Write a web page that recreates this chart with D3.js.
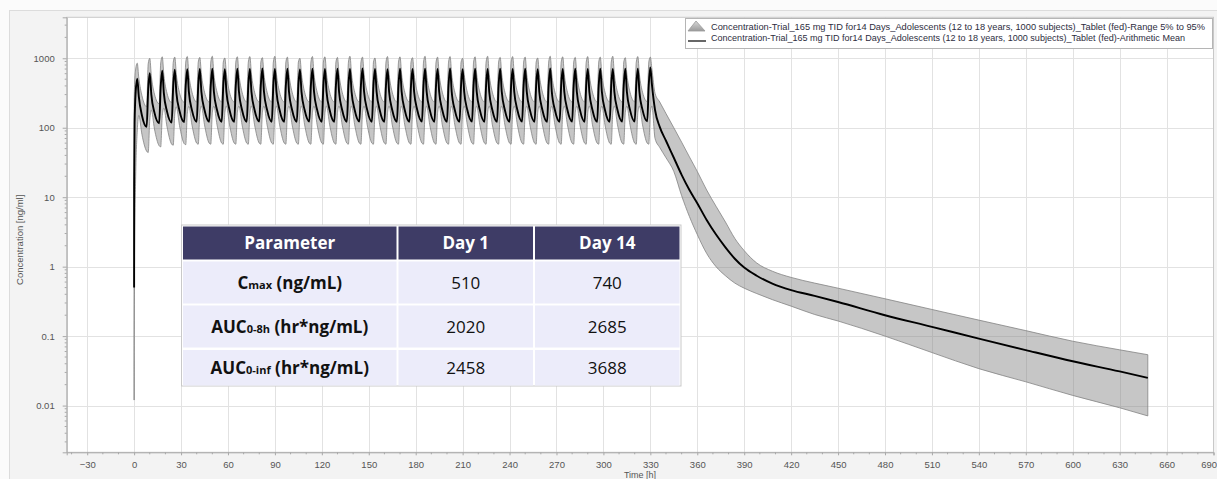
<!DOCTYPE html>
<html><head><meta charset="utf-8">
<script src="https://cdn.jsdelivr.net/npm/d3@7"></script>
<style>
html,body{margin:0;padding:0;background:#fff;}
svg{display:block;}
</style></head>
<body>
<svg id="chart" width="1217" height="479"></svg>
<script>
// ---------------- DATA ----------------
const xTickValues = [-30,0,30,60,90,120,150,180,210,240,270,300,330,360,390,420,450,480,510,540,570,600,630,660,690];
const yTickValues = [0.01,0.1,1,10,100,1000];
const yTickLabels = ["0.01","0.1","1","10","100","1000"];

const legendLabels = [
  "Concentration-Trial_165 mg TID for14 Days_Adolescents (12 to 18 years, 1000 subjects)_Tablet (fed)-Range 5% to 95%",
  "Concentration-Trial_165 mg TID for14 Days_Adolescents (12 to 18 years, 1000 subjects)_Tablet (fed)-Arithmetic Mean"
];

// first instants after the first dose
const startHours = [0, 0.02, 0.3];
const startMean  = [0.5, 15, 117];
const startP5    = [0.012, 0.06, 1.5];
const startP95   = [4, 200, 420];

// TID dosing, values read at these hours after each dose
const doseHours = [0,8,16,24,32,40,48,56,64,72,80,88,96,104,112,120,128,136,144,152,160,168,176,184,192,200,208,216,224,232,240,248,256,264,272,280,288,296,304,312,320];
const hoursAfterDose = [0, 1, 2, 3, 5];

const meanByDose = [
  [null,330,510,280,150],[103,360,610,300,165],[116,390,660,315,172],[119,400,685,322,176],
  [121,405,695,328,178],[122,405,700,330,180],[122,405,705,330,180],[122,405,695,330,180],
  [122,408,710,332,180],[122,405,700,330,180],[123,410,715,332,181],[122,405,700,330,180],
  [122,405,705,330,180],[122,405,690,328,180],[123,408,710,332,181],[122,405,700,330,180],
  [122,405,705,330,180],[122,405,700,330,180],[123,410,715,332,181],[122,405,700,330,180],
  [122,405,695,330,180],[122,408,710,332,180],[122,405,700,330,180],[123,405,705,330,181],
  [122,405,700,330,180],[122,410,715,332,180],[122,405,695,330,180],[123,405,705,330,181],
  [122,405,700,330,180],[122,408,710,332,180],[122,405,700,330,180],[123,405,705,330,181],
  [122,405,695,330,180],[122,410,715,332,180],[122,405,700,330,180],[123,405,705,330,181],
  [122,405,700,330,180],[122,408,710,332,180],[122,405,700,330,180],[123,405,705,330,181],
  [123,408,710,332,181]
];
const p95ByDose = [
  [null,700,850,520,290],[200,830,1000,560,305],[222,860,1050,575,315],[230,870,1040,585,320],
  [233,880,1060,590,324],[235,880,1030,590,325],[235,880,1070,590,325],[235,880,1010,590,325],
  [235,880,1050,590,325],[235,880,1060,590,325],[235,880,1020,590,325],[235,880,1070,590,325],
  [235,880,1040,590,325],[235,880,1000,590,325],[235,880,1060,590,325],[235,880,1050,590,325],
  [235,880,1030,590,325],[235,880,1070,590,325],[235,880,1040,590,325],[235,880,1010,590,325],
  [235,880,1060,590,325],[235,880,1050,590,325],[235,880,1020,590,325],[235,880,1070,590,325],
  [235,880,1040,590,325],[235,880,1060,590,325],[235,880,1000,590,325],[235,880,1050,590,325],
  [235,880,1070,590,325],[235,880,1030,590,325],[235,880,1060,590,325],[235,880,1040,590,325],
  [235,880,1010,590,325],[235,880,1070,590,325],[235,880,1050,590,325],[235,880,1030,590,325],
  [235,880,1060,590,325],[235,880,1040,590,325],[235,880,1070,590,325],[235,880,1020,590,325],
  [236,880,1060,590,325]
];
const p5ByDose = [
  [null,20,90,150,80],[46,44,130,180,96],[55,53,150,192,104],[58,56,158,200,108],
  [59,57,162,203,109],[60,58,165,205,110],[60,58,165,205,110],[60,58,165,205,110],
  [60,58,165,205,110],[60,58,165,205,110],[60,58,165,205,110],[60,58,165,205,110],
  [60,58,165,205,110],[60,58,165,205,110],[60,58,165,205,110],[60,58,165,205,110],
  [60,58,165,205,110],[60,58,165,205,110],[60,58,165,205,110],[60,58,165,205,110],
  [60,58,165,205,110],[60,58,165,205,110],[60,58,165,205,110],[60,58,165,205,110],
  [60,58,165,205,110],[60,58,165,205,110],[60,58,165,205,110],[60,58,165,205,110],
  [60,58,165,205,110],[60,58,165,205,110],[60,58,165,205,110],[60,58,165,205,110],
  [60,58,165,205,110],[60,58,165,205,110],[60,58,165,205,110],[60,58,165,205,110],
  [60,58,165,205,110],[60,58,165,205,110],[60,58,165,205,110],[60,58,165,205,110],
  [60,58,165,205,110]
];

// last dose (328 h) and elimination phase
const tailHours = [328,329,330,331,333,336,340,345,350,355,360,366,372,378,384,390,398,408,420,435,450,480,510,540,570,600,630,648];
const tailMean  = [124,420,740,420,180,103,65,37,21,12.7,8.2,4.7,2.9,1.9,1.3,0.97,0.74,0.57,0.46,0.38,0.31,0.2,0.136,0.092,0.063,0.0435,0.031,0.025];
const tailP95   = [238,880,1040,700,313,235,160,100,62,38,23.5,12.7,7.4,4.4,2.55,1.7,1.13,0.86,0.7,0.58,0.49,0.345,0.242,0.17,0.12,0.0845,0.0635,0.054];
const tailP5    = [60,58,165,205,70,52,37,23.5,10.5,5.25,2.9,1.55,1.0,0.74,0.58,0.49,0.41,0.335,0.27,0.205,0.165,0.1,0.058,0.034,0.022,0.014,0.0093,0.0071];

// summary table
const tableHeader = ["Parameter","Day 1","Day 14"];
const paramMain = ["C","AUC","AUC"];
const paramSub  = ["max","0-8h","0-inf"];
const paramUnit = ["(ng/mL)","(hr*ng/mL)","(hr*ng/mL)"];
const day1Values  = [510, 2020, 2458];
const day14Values = [740, 2685, 3688];

// ---------------- BUILD SERIES ----------------
function buildSeries(start, rows, tail){
  const pts = startHours.map((t,i)=>[t,start[i]]);
  doseHours.forEach((d,i)=>hoursAfterDose.forEach((h,j)=>{ if(rows[i][j]!=null) pts.push([d+h, rows[i][j]]); }));
  tailHours.forEach((t,i)=>pts.push([t, tail[i]]));
  return pts;
}
const meanPts = buildSeries(startMean, meanByDose, tailMean);
const p5Pts   = buildSeries(startP5, p5ByDose, tailP5);
const p95Pts  = buildSeries(startP95, p95ByDose, tailP95);
const band = p5Pts.map((p,i)=>({t:p[0], lo:p[1], hi:p95Pts[i][1]}));

// ---------------- LAYOUT ----------------
const svg = d3.select("#chart");
const FONT = "'Liberation Sans', Arial, sans-serif";
const X0 = 66.7, X1 = 1213.5, Y0 = 17.3, Y1 = 452.3;

const x = d3.scaleLinear().domain([-43.1, 690]).range([X0, X1]);
const y = d3.scaleLog().domain([0.002125, 3890]).range([Y1, Y0]);

// panel background
svg.append("rect").attr("x",0).attr("y",0).attr("width",1217).attr("height",479).attr("fill","#fbfbfb");
svg.append("rect").attr("x",9.5).attr("y",10.5).attr("width",1220).attr("height",480)
   .attr("fill","#f3f3f3").attr("stroke","#dcdcdc");
// plot area
svg.append("rect").attr("x",X0).attr("y",Y0).attr("width",X1-X0).attr("height",Y1-Y0).attr("fill","#fff");

const defs = svg.append("defs");
defs.append("clipPath").attr("id","plotclip")
  .append("rect").attr("x",X0).attr("y",Y0).attr("width",X1-X0).attr("height",Y1-Y0);

// grid
const grid = svg.append("g").attr("clip-path","url(#plotclip)");
grid.selectAll("line.vx").data(xTickValues).join("line")
  .attr("x1",d=>Math.round(x(d))+0.5).attr("x2",d=>Math.round(x(d))+0.5)
  .attr("y1",Y0).attr("y2",Y1).attr("stroke","#e2e2e2").attr("stroke-width",1);
grid.selectAll("line.hy").data(yTickValues).join("line")
  .attr("y1",d=>Math.round(y(d))+0.5).attr("y2",d=>Math.round(y(d))+0.5)
  .attr("x1",X0).attr("x2",X1).attr("stroke","#e2e2e2").attr("stroke-width",1);

// band
const plot = svg.append("g").attr("clip-path","url(#plotclip)");
plot.append("path").datum(band)
  .attr("d", d3.area().curve(d3.curveMonotoneX).x(d=>x(d.t)).y0(d=>y(d.lo)).y1(d=>y(d.hi)))
  .attr("fill","rgb(125,125,125)").attr("fill-opacity",0.44)
  .attr("stroke","#838383").attr("stroke-width",0.8).attr("stroke-linejoin","round");
// mean line
plot.append("path").datum(meanPts)
  .attr("d", d3.line().curve(d3.curveMonotoneX).x(d=>x(d[0])).y(d=>y(d[1])))
  .attr("fill","none").attr("stroke","#000").attr("stroke-width",1.9).attr("stroke-linejoin","round");

// frame
svg.append("rect").attr("x",X0).attr("y",Y0).attr("width",X1-X0).attr("height",Y1-Y0)
  .attr("fill","none").attr("stroke","#c8c8c8");

// x axis
const xAxis = svg.append("g").attr("transform",`translate(0,${Y1})`)
  .call(d3.axisBottom(x).tickValues(xTickValues).tickSize(3).tickPadding(6).tickFormat(d3.format("d")));
xAxis.select(".domain").attr("stroke","#a8a8a8");
xAxis.selectAll(".tick line").attr("stroke","#a8a8a8");
xAxis.selectAll("text").attr("font-family",FONT).attr("font-size",9.5).attr("fill","#555");
xAxis.selectAll(".tick").filter(d=>d===690).select("text").attr("text-anchor","end").attr("dx",3);
svg.append("g").selectAll("line").data(d3.range(-40,691,10).filter(v=>v%30!==0)).join("line")
  .attr("x1",d=>x(d)).attr("x2",d=>x(d)).attr("y1",Y1).attr("y2",Y1+2).attr("stroke","#a8a8a8");

// y axis
const yAxis = svg.append("g").attr("transform",`translate(${X0},0)`)
  .call(d3.axisLeft(y).tickValues(yTickValues).tickSize(4).tickPadding(8).tickFormat((d,i)=>yTickLabels[i]));
yAxis.select(".domain").attr("stroke","#a8a8a8");
yAxis.selectAll(".tick line").attr("stroke","#a8a8a8");
yAxis.selectAll("text").attr("font-family",FONT).attr("font-size",9.5).attr("fill","#555");
const yMinor = y.ticks().filter(v=>!yTickValues.includes(v) && v>=0.00215 && v<=3890);
svg.append("g").selectAll("line").data(yMinor).join("line")
  .attr("x1",X0-2).attr("x2",X0).attr("y1",d=>y(d)).attr("y2",d=>y(d)).attr("stroke","#a8a8a8");

// axis titles
svg.append("text").attr("transform",`translate(23,${(Y0+Y1)/2+5}) rotate(-90)`)
  .attr("text-anchor","middle").attr("font-family",FONT).attr("font-size",9.5).attr("fill","#555")
  .text("Concentration [ng/ml]");
svg.append("text").attr("x",640).attr("y",478).attr("text-anchor","middle")
  .attr("font-family",FONT).attr("font-size",9).attr("fill","#555").text("Time [h]");

// legend
const lg = svg.append("g");
lg.append("rect").attr("x",685.5).attr("y",18.5).attr("width",527).attr("height",30)
  .attr("fill","#fff").attr("stroke","#b5b5b5");
const grad = defs.append("linearGradient").attr("id","trig").attr("x1",0).attr("y1",0).attr("x2",0).attr("y2",1);
grad.append("stop").attr("offset","0%").attr("stop-color","#d8d8d8");
grad.append("stop").attr("offset","100%").attr("stop-color","#9a9a9a");
lg.append("path").attr("d","M688,31 L696,21 L705,31 Z").attr("fill","url(#trig)").attr("stroke","#9a9a9a").attr("stroke-width",0.8);
lg.append("line").attr("x1",688).attr("x2",706).attr("y1",41).attr("y2",41).attr("stroke","#000").attr("stroke-width",1.2);
lg.selectAll("text").data(legendLabels).join("text")
  .attr("x",711).attr("y",(d,i)=>29.5+i*11)
  .attr("font-family",FONT).attr("font-size",8.6).attr("fill","#2d2d40")
  .attr("textLength",(d,i)=>i===0?494:474).attr("lengthAdjust","spacingAndGlyphs")
  .text(d=>d);

// table
const TF = "'Open Sans', 'Noto Sans', sans-serif";
const colX = [183, 398.5, 535];
const colW = [213.5, 134.5, 144.5];
const headY = 226.5, headH = 33;
const rowY = [261.5, 305.5, 350];
const rowH = [42, 42, 35.5];
const tbl = svg.append("g");
tbl.append("rect").attr("x",181.5).attr("y",225).attr("width",499.5).attr("height",161)
  .attr("fill","#fff").attr("stroke","#c9c9c9");
tbl.selectAll("rect.h").data(tableHeader).join("rect").attr("class","h")
  .attr("x",(d,i)=>colX[i]).attr("y",headY).attr("width",(d,i)=>colW[i]).attr("height",headH)
  .attr("fill","#3e3c66");
tbl.selectAll("text.h").data(tableHeader).join("text").attr("class","h")
  .attr("x",(d,i)=>colX[i]+colW[i]/2).attr("y",headY+headH/2+6)
  .attr("text-anchor","middle").attr("font-family",TF).attr("font-weight","bold")
  .attr("font-size",17).attr("fill","#fff").text(d=>d);
paramMain.forEach((p,r)=>{
  [0,1,2].forEach(c=>{
    tbl.append("rect").attr("x",colX[c]).attr("y",rowY[r]).attr("width",colW[c]).attr("height",rowH[r])
      .attr("fill","#ececfa");
  });
  const cy = rowY[r]+rowH[r]/2+6;
  const t = tbl.append("text").attr("x",colX[0]+colW[0]/2).attr("y",cy).attr("text-anchor","middle")
    .attr("font-family",TF).attr("font-weight","bold").attr("font-size",17).attr("fill","#111");
  t.append("tspan").text(p);
  t.append("tspan").attr("font-size",11).text(paramSub[r]);
  t.append("tspan").text(" "+paramUnit[r]);
  tbl.append("text").attr("x",colX[1]+colW[1]/2).attr("y",cy).attr("text-anchor","middle")
    .attr("font-family",TF).attr("font-size",17).attr("fill","#111").text(day1Values[r]);
  tbl.append("text").attr("x",colX[2]+colW[2]/2).attr("y",cy).attr("text-anchor","middle")
    .attr("font-family",TF).attr("font-size",17).attr("fill","#111").text(day14Values[r]);
});
</script>
</body></html>
